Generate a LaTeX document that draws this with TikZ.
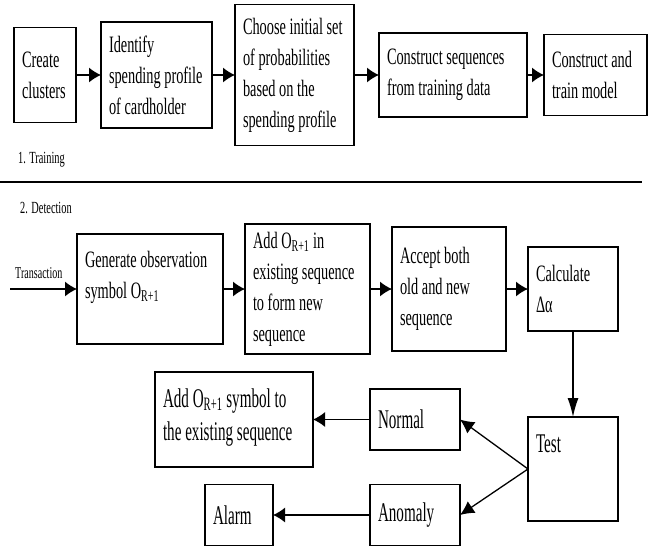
\documentclass[tikz,border=0pt]{standalone}
\usepackage{fontspec}
\setmainfont{Liberation Serif}[FakeStretch=0.61]
\newfontfamily\tallfont{Liberation Serif}[FakeStretch=0.56]
\usetikzlibrary{positioning, arrows.meta}
\hyphenpenalty=10000

\tikzset{
  box/.style={draw, line width=1.3pt, inner xsep=8pt, inner ysep=6pt, outer sep=0pt, align=flush left},
  tall/.style={font=\tallfont\fontsize{27}{33}\selectfont},
  flow/.style={line width=1.3pt, -{Latex[length=12pt,width=15pt]}},
  tag/.style={font=\fontsize{17}{20}\selectfont, inner sep=0pt, anchor=west},
}

\begin{document}
\begin{tikzpicture}[x=1pt, y=-1pt, font=\fontsize{23.5}{31}\selectfont]
  \useasboundingbox (0,0) rectangle (648,546);

  % training
  \node[box, text width=46pt, minimum height=95pt] (clusters) at (45,75) {Create\\clusters};
  \node[box, right=25pt of clusters, text width=95pt, minimum height=106pt] (profile) {Identify\\spending profile\\of cardholder};
  \node[box, right=23pt of profile, text width=103pt, minimum height=141pt] (probs) {Choose initial set\\of probabilities\\based on the\\spending profile};
  \node[box, right=25pt of probs, text width=132pt, minimum height=84pt] (seqs) {Construct sequences\\from training data};
  \node[box, right=17pt of seqs, text width=87pt, minimum height=81pt] (model) {Construct and\\train model};

  \draw[flow] (clusters) -- (profile);
  \draw[flow] (profile) -- (probs);
  \draw[flow] (probs) -- (seqs);
  \draw[flow] (seqs) -- (model);

  \node[tag] (training) at (18,160) {1. Training};
  \coordinate (sepl) at (0,182);
  \coordinate (sepr) at (642,182);
  \draw[line width=2pt] (sepl) -- (sepr);
  \node[tag] (detection) at (20,208) {2. Detection};

  % detection
  \node[box, text width=130pt, text height=27pt, text depth=71pt] (symbol) at (150,289) {Generate observation\\symbol O\textsubscript{R+1}};
  \node[box, right=22pt of symbol, text width=109pt, minimum height=130pt] (addseq) {Add O\textsubscript{R+1} in\\existing sequence\\to form new\\sequence};
  \node[box, right=22pt of addseq, text width=98pt, minimum height=124pt] (accept) {Accept both\\old and new\\sequence};
  \node[box, right=22pt of accept, text width=74pt, minimum height=84pt] (delta) {Calculate\\Δα};

  \node[box, tall, below=86pt of delta, text width=74pt, text height=29pt, text depth=63pt] (test) {Test};
  \node[box, tall, text width=74pt, minimum height=61pt] (normal) at (415,419.5) {Normal};
  \node[box, tall, text width=74pt, minimum height=61pt] (anomaly) at (415,515) {Anomaly};
  \node[box, tall, left=57pt of normal, text width=142pt, text height=29pt, text depth=54pt] (addsym) {Add O\textsubscript{R+1} symbol to\\the existing sequence};
  \node[box, tall, left=97pt of anomaly, text width=52pt, minimum height=61pt] (alarm) {Alarm};

  \coordinate[left=67pt of symbol] (txin);
  \draw[flow] (txin) -- (symbol) node[above=6pt, pos=0.43, font=\fontsize{16.5}{19}\selectfont] {Transaction};
  \draw[flow] (symbol) -- (addseq);
  \draw[flow] (addseq) -- (accept);
  \draw[flow] (accept) -- (delta);
  \draw[flow, -{Latex[length=19pt,width=11pt]}] (delta) -- (test);
  \draw[flow, -{Latex[length=14pt,width=14pt]}] (test.west) -- (normal.east);
  \draw[flow, -{Latex[length=14pt,width=14pt]}] (test.west) -- (anomaly.east);
  \draw[flow] (normal) -- (addsym);
  \draw[flow] (anomaly) -- (alarm);
\end{tikzpicture}
\end{document}
